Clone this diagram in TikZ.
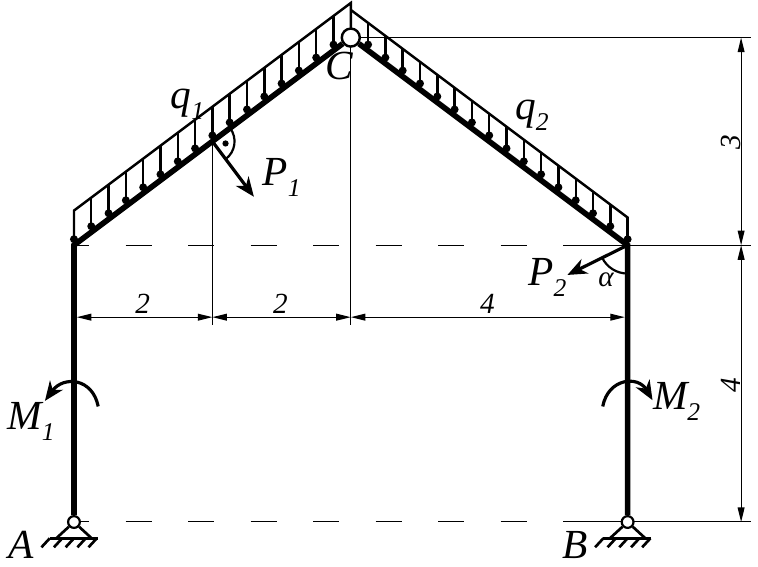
\documentclass[tikz,border=0pt]{standalone}
\usepackage{fontspec}
\setmainfont{Liberation Serif}
\usetikzlibrary{arrows.meta,calc}
\newcommand{\lblsub}[2]{#1\raisebox{-4.5pt}{\fontsize{10.5}{11}\selectfont #2}}
\begin{document}
\begin{tikzpicture}[
    member/.style={line width=2.3pt},
    thinline/.style={line width=0.5pt},
    loadline/.style={line width=1pt},
    dimline/.style={line width=0.5pt,{Triangle[length=6pt,width=2.8pt]}-{Triangle[length=6pt,width=2.8pt]}},
    force/.style={line width=1.3pt,-{Stealth[length=8pt,width=6.5pt,inset=2.5pt]}},
    hinge/.style={circle,draw,fill=white,inner sep=0pt},
    lbl/.style={inner sep=0pt,anchor=base west,font=\fontsize{17}{18}\selectfont\itshape},
    dimlbl/.style={inner sep=0pt,font=\fontsize{12}{13}\selectfont\itshape}]
  \useasboundingbox (-1.069,-0.636) rectangle (9.884,7.543);

  \coordinate (D) at (0,4);
  \coordinate (E) at (8,4);
  \coordinate (Ctop) at (4,7.5);

  % dashed levels and extension lines
  \coordinate (lvl4) at (7.4,4);
  \coordinate (lvl0) at (7.4,0.007);
  \draw[thinline,dash pattern=on 10.7pt off 15pt,dash phase=4.5pt] (D) -- (lvl4);
  \draw[thinline,dash pattern=on 10.7pt off 15pt,dash phase=4.5pt] (0,0.007) -- (lvl0);
  \draw[thinline] (lvl4) -- (9.78,4);
  \draw[thinline] (lvl0) -- (9.78,0.007);
  \draw[thinline] (4,7) -- (9.78,7);
  \draw[thinline] (2,5.5) -- (2,2.85);
  \draw[thinline] (4,7) -- (4,2.85);

  % distributed loads
  \draw[loadline] (D) -- (0,4.5) -- (Ctop) -- (4,7);
  \draw[loadline] (4,7.4) -- (8,4.4) -- (E);
  \foreach \x in {0,0.25,...,3.8}
    \draw[loadline,-{Circle[length=3.2pt]}] (\x,{4.5+0.75*\x}) -- (\x,{4.03+0.75*\x});
  \foreach \x in {4.25,4.5,...,8.1}
    \draw[loadline,-{Circle[length=3.2pt]}] (\x,{7.4-0.75*(\x-4)}) -- (\x,{7.03-0.75*(\x-4)});

  % frame
  \node[hinge,line width=1pt,minimum size=2.6mm] (C) at (4,7) {};
  \node[hinge,line width=0.9pt,minimum size=1.7mm] (A) at (0,0) {};
  \node[hinge,line width=0.9pt,minimum size=1.7mm] (B) at (8,0) {};
  \draw[member] (A) -- (D) -- (C) -- (E) -- (B);

  % supports
  \foreach \pt in {A,B} {
    \draw[line width=1.1pt] (\pt) -- ++(-0.25,-0.23) (\pt) -- ++(0.25,-0.23);
    \draw[line width=1.1pt] ($(\pt)+(-0.35,-0.235)$) -- ++(0.69,0);
    \foreach \h in {-0.35,-0.17,0,0.17,0.33}
      \draw[line width=1.1pt] ($(\pt)+(\h,-0.235)$) -- ++(-0.12,-0.13);
  }

  % forces
  \coordinate (Pa) at (2,5.5);
  \draw[force] (Pa) -- (2.6,4.7);
  \draw[line width=0.9pt] (Pa) ++(36.87:0.32) arc[start angle=36.87,end angle=-53.13,radius=0.32];
  \fill (2.19,5.47) circle (0.045);
  \draw[force] (E) -- (7.13,3.57);
  \draw[line width=0.9pt] (E) ++(206:0.41) arc[start angle=206,end angle=270,radius=0.41];

  % moments
  \draw[force] (0.35,1.67) .. controls (0.27,2.08) and (-0.15,2.12) .. (-0.42,1.75);
  \draw[force] (7.64,1.67) .. controls (7.72,2.08) and (8.15,2.12) .. (8.36,1.76);

  % dimensions
  \coordinate (d0) at (0.04,2.96);
  \coordinate (d2) at (2,2.96);
  \coordinate (d4) at (4,2.96);
  \coordinate (d8) at (7.96,2.96);
  \draw[dimline] (d0) -- (d2);
  \draw[dimline] (d2) -- (d4);
  \draw[dimline] (d4) -- (d8);
  \coordinate (h0) at (9.64,0);
  \coordinate (h4) at (9.64,4);
  \coordinate (h7) at (9.64,7);
  \draw[dimline] (h7) -- (h4);
  \draw[dimline] (h4) -- (h0);

  \node[dimlbl,anchor=base west] (dimA) at (0.88,3.01) {2};
  \node[dimlbl,anchor=base west] (dimB) at (2.87,3.01) {2};
  \node[dimlbl,anchor=base west] (dimC) at (5.86,3.01) {4};
  \node[dimlbl,rotate=90] (dimD) at (9.49,5.49) {3};
  \node[dimlbl,rotate=90] (dimE) at (9.49,1.98) {4};

  % labels
  \node[lbl] (lq1) at (1.39,5.98) {\lblsub{q}{1}};
  \node[lbl] (lq2) at (6.37,5.81) {\lblsub{q}{2}};
  \node[lbl] (lP1) at (2.72,4.86) {\lblsub{P}{1}};
  \node[lbl] (lP2) at (6.56,3.42) {\lblsub{P}{2}};
  \node[lbl] (lM1) at (-0.97,1.34) {\lblsub{M}{1}};
  \node[lbl] (lM2) at (8.36,1.63) {\lblsub{M}{2}};
  \node[lbl] (lA) at (-0.95,-0.53) {A};
  \node[lbl] (lB) at (7.05,-0.52) {B};
  \node[lbl] (lC) at (3.63,6.39) {C};
  \node[dimlbl,anchor=base west] (lalpha) at (7.57,3.40) {α};
\end{tikzpicture}
\end{document}
